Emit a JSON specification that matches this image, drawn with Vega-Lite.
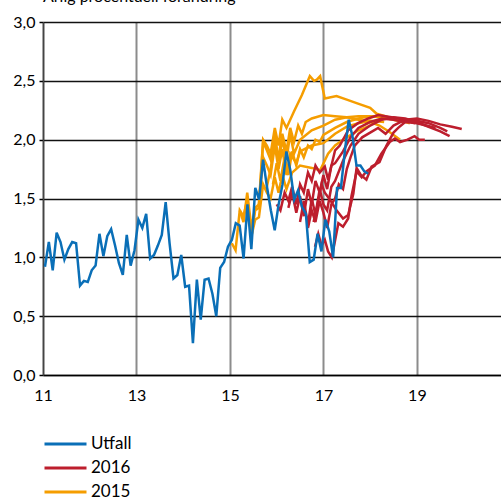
{
"$schema":"https://vega.github.io/schema/vega-lite/v6.json",
"width":458,"height":353,
"autosize":{"type":"none"},
"padding":{"left":43,"top":22,"right":0,"bottom":124},
"config":{"locale":{"number":{"decimal":",","thousands":" ","grouping":[3],"currency":[""," kr"]}},"view":{"stroke":null},"font":"Lato"},
"title":{"text":"Årlig procentuell förändring","anchor":"start","frame":"group","fontSize":16,"fontWeight":"normal","font":"Lato","color":"#000","baseline":"alphabetic","offset":8,"dy":12},
"datasets":{
"utfall":[
{"s":"Utfall","id":"U","t":11.042,"v":0.92},{"s":"Utfall","id":"U","t":11.125,"v":1.13},{"s":"Utfall","id":"U","t":11.208,"v":0.89},{"s":"Utfall","id":"U","t":11.292,"v":1.21},{"s":"Utfall","id":"U","t":11.375,"v":1.13},{"s":"Utfall","id":"U","t":11.458,"v":0.98},{"s":"Utfall","id":"U","t":11.542,"v":1.07},{"s":"Utfall","id":"U","t":11.625,"v":1.13},{"s":"Utfall","id":"U","t":11.708,"v":1.12},{"s":"Utfall","id":"U","t":11.792,"v":0.76},{"s":"Utfall","id":"U","t":11.875,"v":0.80},{"s":"Utfall","id":"U","t":11.958,"v":0.79},
{"s":"Utfall","id":"U","t":12.042,"v":0.89},{"s":"Utfall","id":"U","t":12.125,"v":0.93},{"s":"Utfall","id":"U","t":12.208,"v":1.20},{"s":"Utfall","id":"U","t":12.292,"v":1.01},{"s":"Utfall","id":"U","t":12.375,"v":1.18},{"s":"Utfall","id":"U","t":12.458,"v":1.24},{"s":"Utfall","id":"U","t":12.542,"v":1.10},{"s":"Utfall","id":"U","t":12.625,"v":0.95},{"s":"Utfall","id":"U","t":12.708,"v":0.85},{"s":"Utfall","id":"U","t":12.792,"v":1.19},{"s":"Utfall","id":"U","t":12.875,"v":0.93},{"s":"Utfall","id":"U","t":12.958,"v":1.06},
{"s":"Utfall","id":"U","t":13.042,"v":1.32},{"s":"Utfall","id":"U","t":13.125,"v":1.25},{"s":"Utfall","id":"U","t":13.208,"v":1.37},{"s":"Utfall","id":"U","t":13.292,"v":0.99},{"s":"Utfall","id":"U","t":13.375,"v":1.02},{"s":"Utfall","id":"U","t":13.458,"v":1.10},{"s":"Utfall","id":"U","t":13.542,"v":1.19},{"s":"Utfall","id":"U","t":13.625,"v":1.47},{"s":"Utfall","id":"U","t":13.708,"v":1.12},{"s":"Utfall","id":"U","t":13.792,"v":0.82},{"s":"Utfall","id":"U","t":13.875,"v":0.85},{"s":"Utfall","id":"U","t":13.958,"v":1.02},
{"s":"Utfall","id":"U","t":14.042,"v":0.75},{"s":"Utfall","id":"U","t":14.125,"v":0.76},{"s":"Utfall","id":"U","t":14.208,"v":0.27},{"s":"Utfall","id":"U","t":14.292,"v":0.81},{"s":"Utfall","id":"U","t":14.375,"v":0.47},{"s":"Utfall","id":"U","t":14.458,"v":0.81},{"s":"Utfall","id":"U","t":14.542,"v":0.82},{"s":"Utfall","id":"U","t":14.625,"v":0.69},{"s":"Utfall","id":"U","t":14.708,"v":0.50},{"s":"Utfall","id":"U","t":14.792,"v":0.91},{"s":"Utfall","id":"U","t":14.875,"v":0.96},{"s":"Utfall","id":"U","t":14.958,"v":1.09},
{"s":"Utfall","id":"U","t":15.042,"v":1.15},{"s":"Utfall","id":"U","t":15.125,"v":1.29},{"s":"Utfall","id":"U","t":15.208,"v":1.27},{"s":"Utfall","id":"U","t":15.292,"v":0.99},{"s":"Utfall","id":"U","t":15.375,"v":1.45},{"s":"Utfall","id":"U","t":15.458,"v":1.07},{"s":"Utfall","id":"U","t":15.542,"v":1.59},{"s":"Utfall","id":"U","t":15.625,"v":1.49},{"s":"Utfall","id":"U","t":15.708,"v":1.83},{"s":"Utfall","id":"U","t":15.792,"v":1.60},{"s":"Utfall","id":"U","t":15.875,"v":1.40},{"s":"Utfall","id":"U","t":15.958,"v":1.23},
{"s":"Utfall","id":"U","t":16.042,"v":1.45},{"s":"Utfall","id":"U","t":16.125,"v":1.62},{"s":"Utfall","id":"U","t":16.208,"v":1.90},{"s":"Utfall","id":"U","t":16.292,"v":1.74},{"s":"Utfall","id":"U","t":16.375,"v":1.49},{"s":"Utfall","id":"U","t":16.458,"v":1.57},{"s":"Utfall","id":"U","t":16.542,"v":1.43},{"s":"Utfall","id":"U","t":16.625,"v":1.37},{"s":"Utfall","id":"U","t":16.708,"v":0.96},{"s":"Utfall","id":"U","t":16.792,"v":0.98},{"s":"Utfall","id":"U","t":16.875,"v":1.20},{"s":"Utfall","id":"U","t":16.958,"v":1.05},
{"s":"Utfall","id":"U","t":17.042,"v":1.32},{"s":"Utfall","id":"U","t":17.125,"v":1.22},{"s":"Utfall","id":"U","t":17.208,"v":1.00},{"s":"Utfall","id":"U","t":17.292,"v":1.59},{"s":"Utfall","id":"U","t":17.375,"v":1.59},{"s":"Utfall","id":"U","t":17.458,"v":1.90},{"s":"Utfall","id":"U","t":17.542,"v":2.17},{"s":"Utfall","id":"U","t":17.625,"v":2.02},{"s":"Utfall","id":"U","t":17.708,"v":1.78},{"s":"Utfall","id":"U","t":17.792,"v":1.78},{"s":"Utfall","id":"U","t":17.875,"v":1.73},{"s":"Utfall","id":"U","t":17.958,"v":1.71}
],
"p2016":[
{"s":"2016","id":"R1","t":16.0,"v":1.45},{"s":"2016","id":"R1","t":16.08,"v":1.40},{"s":"2016","id":"R1","t":16.17,"v":1.55},{"s":"2016","id":"R1","t":16.25,"v":1.48},{"s":"2016","id":"R1","t":16.33,"v":1.60},{"s":"2016","id":"R1","t":16.42,"v":1.45},{"s":"2016","id":"R1","t":16.5,"v":1.62},{"s":"2016","id":"R1","t":16.58,"v":1.55},{"s":"2016","id":"R1","t":16.67,"v":1.72},{"s":"2016","id":"R1","t":16.75,"v":1.65},{"s":"2016","id":"R1","t":16.83,"v":1.78},{"s":"2016","id":"R1","t":16.92,"v":1.72},{"s":"2016","id":"R1","t":17.03,"v":1.77},{"s":"2016","id":"R1","t":17.1,"v":1.66},{"s":"2016","id":"R1","t":17.25,"v":1.91},{"s":"2016","id":"R1","t":17.35,"v":1.95},{"s":"2016","id":"R1","t":17.53,"v":2.08},{"s":"2016","id":"R1","t":17.74,"v":2.14},{"s":"2016","id":"R1","t":17.96,"v":2.18},{"s":"2016","id":"R1","t":18.17,"v":2.21},{"s":"2016","id":"R1","t":18.46,"v":2.19},{"s":"2016","id":"R1","t":18.74,"v":2.17},{"s":"2016","id":"R1","t":18.96,"v":2.14},
{"s":"2016","id":"R2","t":16.25,"v":1.42},{"s":"2016","id":"R2","t":16.33,"v":1.55},{"s":"2016","id":"R2","t":16.42,"v":1.38},{"s":"2016","id":"R2","t":16.5,"v":1.52},{"s":"2016","id":"R2","t":16.58,"v":1.35},{"s":"2016","id":"R2","t":16.67,"v":1.58},{"s":"2016","id":"R2","t":16.75,"v":1.45},{"s":"2016","id":"R2","t":16.83,"v":1.65},{"s":"2016","id":"R2","t":16.92,"v":1.55},{"s":"2016","id":"R2","t":17.0,"v":1.70},{"s":"2016","id":"R2","t":17.08,"v":1.58},{"s":"2016","id":"R2","t":17.17,"v":1.78},{"s":"2016","id":"R2","t":17.25,"v":1.80},{"s":"2016","id":"R2","t":17.42,"v":1.90},{"s":"2016","id":"R2","t":17.58,"v":2.02},{"s":"2016","id":"R2","t":17.75,"v":2.10},{"s":"2016","id":"R2","t":18.0,"v":2.15},{"s":"2016","id":"R2","t":18.25,"v":2.18},{"s":"2016","id":"R2","t":18.5,"v":2.17},{"s":"2016","id":"R2","t":18.75,"v":2.15},{"s":"2016","id":"R2","t":19.0,"v":2.14},{"s":"2016","id":"R2","t":19.2,"v":2.12},{"s":"2016","id":"R2","t":19.4,"v":2.10},
{"s":"2016","id":"R3","t":16.5,"v":1.30},{"s":"2016","id":"R3","t":16.58,"v":1.48},{"s":"2016","id":"R3","t":16.67,"v":1.28},{"s":"2016","id":"R3","t":16.75,"v":1.50},{"s":"2016","id":"R3","t":16.83,"v":1.36},{"s":"2016","id":"R3","t":16.92,"v":1.58},{"s":"2016","id":"R3","t":17.0,"v":1.45},{"s":"2016","id":"R3","t":17.08,"v":1.40},{"s":"2016","id":"R3","t":17.17,"v":1.60},{"s":"2016","id":"R3","t":17.25,"v":1.65},{"s":"2016","id":"R3","t":17.42,"v":1.82},{"s":"2016","id":"R3","t":17.58,"v":1.95},{"s":"2016","id":"R3","t":17.75,"v":2.05},{"s":"2016","id":"R3","t":18.0,"v":2.12},{"s":"2016","id":"R3","t":18.25,"v":2.17},{"s":"2016","id":"R3","t":18.5,"v":2.19},{"s":"2016","id":"R3","t":18.75,"v":2.18},{"s":"2016","id":"R3","t":19.0,"v":2.15},{"s":"2016","id":"R3","t":19.25,"v":2.11},{"s":"2016","id":"R3","t":19.5,"v":2.07},{"s":"2016","id":"R3","t":19.7,"v":2.03},
{"s":"2016","id":"R4","t":16.67,"v":1.25},{"s":"2016","id":"R4","t":16.75,"v":1.40},{"s":"2016","id":"R4","t":16.83,"v":1.30},{"s":"2016","id":"R4","t":16.92,"v":1.48},{"s":"2016","id":"R4","t":17.0,"v":1.38},{"s":"2016","id":"R4","t":17.08,"v":1.25},{"s":"2016","id":"R4","t":17.17,"v":1.45},{"s":"2016","id":"R4","t":17.25,"v":1.50},{"s":"2016","id":"R4","t":17.33,"v":1.62},{"s":"2016","id":"R4","t":17.42,"v":1.58},{"s":"2016","id":"R4","t":17.5,"v":1.75},{"s":"2016","id":"R4","t":17.58,"v":1.85},{"s":"2016","id":"R4","t":17.67,"v":1.95},{"s":"2016","id":"R4","t":17.83,"v":2.02},{"s":"2016","id":"R4","t":18.0,"v":2.06},{"s":"2016","id":"R4","t":18.17,"v":2.10},{"s":"2016","id":"R4","t":18.33,"v":2.05},{"s":"2016","id":"R4","t":18.5,"v":2.12},{"s":"2016","id":"R4","t":18.75,"v":2.17},{"s":"2016","id":"R4","t":19.0,"v":2.18},{"s":"2016","id":"R4","t":19.25,"v":2.16},{"s":"2016","id":"R4","t":19.5,"v":2.13},{"s":"2016","id":"R4","t":19.75,"v":2.11},{"s":"2016","id":"R4","t":19.96,"v":2.09},
{"s":"2016","id":"R5","t":16.79,"v":1.30},{"s":"2016","id":"R5","t":16.875,"v":1.45},{"s":"2016","id":"R5","t":16.96,"v":1.62},{"s":"2016","id":"R5","t":17.03,"v":1.55},{"s":"2016","id":"R5","t":17.14,"v":1.49},{"s":"2016","id":"R5","t":17.28,"v":1.40},{"s":"2016","id":"R5","t":17.42,"v":1.33},{"s":"2016","id":"R5","t":17.53,"v":1.36},{"s":"2016","id":"R5","t":17.64,"v":1.54},{"s":"2016","id":"R5","t":17.71,"v":1.76},{"s":"2016","id":"R5","t":17.8,"v":1.70},{"s":"2016","id":"R5","t":17.92,"v":1.66},{"s":"2016","id":"R5","t":18.03,"v":1.77},{"s":"2016","id":"R5","t":18.2,"v":1.81},{"s":"2016","id":"R5","t":18.35,"v":1.95},{"s":"2016","id":"R5","t":18.5,"v":2.06},{"s":"2016","id":"R5","t":18.6,"v":2.10},{"s":"2016","id":"R5","t":18.75,"v":2.15},{"s":"2016","id":"R5","t":19.0,"v":2.16},{"s":"2016","id":"R5","t":19.25,"v":2.14},{"s":"2016","id":"R5","t":19.5,"v":2.10},{"s":"2016","id":"R5","t":19.65,"v":2.07},
{"s":"2016","id":"R6","t":16.82,"v":1.09},{"s":"2016","id":"R6","t":16.89,"v":1.20},{"s":"2016","id":"R6","t":16.96,"v":1.10},{"s":"2016","id":"R6","t":17.03,"v":1.15},{"s":"2016","id":"R6","t":17.1,"v":1.05},{"s":"2016","id":"R6","t":17.18,"v":1.00},{"s":"2016","id":"R6","t":17.32,"v":1.29},{"s":"2016","id":"R6","t":17.42,"v":1.26},{"s":"2016","id":"R6","t":17.53,"v":1.33},{"s":"2016","id":"R6","t":17.6,"v":1.52},{"s":"2016","id":"R6","t":17.71,"v":1.73},{"s":"2016","id":"R6","t":17.82,"v":1.68},{"s":"2016","id":"R6","t":17.92,"v":1.73},{"s":"2016","id":"R6","t":18.1,"v":1.78},{"s":"2016","id":"R6","t":18.24,"v":1.88},{"s":"2016","id":"R6","t":18.42,"v":1.98},{"s":"2016","id":"R6","t":18.53,"v":2.01},{"s":"2016","id":"R6","t":18.64,"v":1.98},{"s":"2016","id":"R6","t":18.8,"v":2.00},{"s":"2016","id":"R6","t":18.95,"v":2.03},{"s":"2016","id":"R6","t":19.05,"v":2.00},{"s":"2016","id":"R6","t":19.17,"v":2.00}
],
"p2015":[
{"s":"2015","id":"O1","t":15.04,"v":1.12},{"s":"2015","id":"O1","t":15.12,"v":1.06},{"s":"2015","id":"O1","t":15.21,"v":1.40},{"s":"2015","id":"O1","t":15.29,"v":1.35},{"s":"2015","id":"O1","t":15.37,"v":1.49},{"s":"2015","id":"O1","t":15.46,"v":1.18},{"s":"2015","id":"O1","t":15.54,"v":1.32},{"s":"2015","id":"O1","t":15.62,"v":1.34},{"s":"2015","id":"O1","t":15.71,"v":1.62},{"s":"2015","id":"O1","t":15.79,"v":1.55},{"s":"2015","id":"O1","t":15.87,"v":1.50},{"s":"2015","id":"O1","t":15.96,"v":1.68},{"s":"2015","id":"O1","t":16.04,"v":1.55},{"s":"2015","id":"O1","t":16.12,"v":1.70},{"s":"2015","id":"O1","t":16.21,"v":1.58},{"s":"2015","id":"O1","t":16.33,"v":1.72},{"s":"2015","id":"O1","t":16.5,"v":1.78},{"s":"2015","id":"O1","t":16.75,"v":1.76},{"s":"2015","id":"O1","t":16.93,"v":1.74},{"s":"2015","id":"O1","t":17.1,"v":1.88},{"s":"2015","id":"O1","t":17.25,"v":1.95},{"s":"2015","id":"O1","t":17.5,"v":2.02},{"s":"2015","id":"O1","t":17.75,"v":2.08},{"s":"2015","id":"O1","t":18.0,"v":2.12},
{"s":"2015","id":"O2","t":15.21,"v":1.40},{"s":"2015","id":"O2","t":15.29,"v":1.30},{"s":"2015","id":"O2","t":15.37,"v":1.55},{"s":"2015","id":"O2","t":15.46,"v":1.25},{"s":"2015","id":"O2","t":15.54,"v":1.42},{"s":"2015","id":"O2","t":15.62,"v":1.45},{"s":"2015","id":"O2","t":15.71,"v":1.85},{"s":"2015","id":"O2","t":15.79,"v":1.78},{"s":"2015","id":"O2","t":15.87,"v":1.70},{"s":"2015","id":"O2","t":15.96,"v":1.95},{"s":"2015","id":"O2","t":16.04,"v":1.75},{"s":"2015","id":"O2","t":16.12,"v":1.92},{"s":"2015","id":"O2","t":16.21,"v":1.70},{"s":"2015","id":"O2","t":16.29,"v":1.88},{"s":"2015","id":"O2","t":16.42,"v":1.80},{"s":"2015","id":"O2","t":16.5,"v":1.90},{"s":"2015","id":"O2","t":16.75,"v":1.95},{"s":"2015","id":"O2","t":17.0,"v":1.97},{"s":"2015","id":"O2","t":17.25,"v":2.05},{"s":"2015","id":"O2","t":17.5,"v":2.11},{"s":"2015","id":"O2","t":17.75,"v":2.14},{"s":"2015","id":"O2","t":18.0,"v":2.16},{"s":"2015","id":"O2","t":18.3,"v":2.15},
{"s":"2015","id":"O3","t":15.46,"v":1.18},{"s":"2015","id":"O3","t":15.54,"v":1.40},{"s":"2015","id":"O3","t":15.62,"v":1.42},{"s":"2015","id":"O3","t":15.71,"v":1.98},{"s":"2015","id":"O3","t":15.79,"v":1.91},{"s":"2015","id":"O3","t":15.87,"v":1.83},{"s":"2015","id":"O3","t":15.96,"v":2.05},{"s":"2015","id":"O3","t":16.04,"v":1.82},{"s":"2015","id":"O3","t":16.12,"v":2.00},{"s":"2015","id":"O3","t":16.21,"v":1.83},{"s":"2015","id":"O3","t":16.29,"v":2.05},{"s":"2015","id":"O3","t":16.37,"v":1.88},{"s":"2015","id":"O3","t":16.5,"v":2.00},{"s":"2015","id":"O3","t":16.75,"v":2.08},{"s":"2015","id":"O3","t":17.0,"v":2.12},{"s":"2015","id":"O3","t":17.25,"v":2.17},{"s":"2015","id":"O3","t":17.5,"v":2.19},{"s":"2015","id":"O3","t":17.75,"v":2.17},{"s":"2015","id":"O3","t":18.0,"v":2.15},{"s":"2015","id":"O3","t":18.2,"v":2.12},{"s":"2015","id":"O3","t":18.4,"v":2.07},{"s":"2015","id":"O3","t":18.64,"v":2.00},
{"s":"2015","id":"O4","t":15.62,"v":1.45},{"s":"2015","id":"O4","t":15.71,"v":2.00},{"s":"2015","id":"O4","t":15.79,"v":1.95},{"s":"2015","id":"O4","t":15.87,"v":1.88},{"s":"2015","id":"O4","t":15.96,"v":2.10},{"s":"2015","id":"O4","t":16.04,"v":1.95},{"s":"2015","id":"O4","t":16.12,"v":2.17},{"s":"2015","id":"O4","t":16.21,"v":2.10},{"s":"2015","id":"O4","t":16.37,"v":2.24},{"s":"2015","id":"O4","t":16.54,"v":2.38},{"s":"2015","id":"O4","t":16.71,"v":2.54},{"s":"2015","id":"O4","t":16.8,"v":2.50},{"s":"2015","id":"O4","t":16.86,"v":2.51},{"s":"2015","id":"O4","t":16.93,"v":2.54},{"s":"2015","id":"O4","t":17.03,"v":2.35},{"s":"2015","id":"O4","t":17.28,"v":2.37},{"s":"2015","id":"O4","t":17.5,"v":2.34},{"s":"2015","id":"O4","t":17.71,"v":2.31},{"s":"2015","id":"O4","t":18.0,"v":2.27},{"s":"2015","id":"O4","t":18.14,"v":2.22},{"s":"2015","id":"O4","t":18.57,"v":2.17},{"s":"2015","id":"O4","t":18.85,"v":2.14},
{"s":"2015","id":"O5","t":15.79,"v":1.60},{"s":"2015","id":"O5","t":15.87,"v":1.75},{"s":"2015","id":"O5","t":15.96,"v":1.98},{"s":"2015","id":"O5","t":16.04,"v":1.85},{"s":"2015","id":"O5","t":16.12,"v":2.05},{"s":"2015","id":"O5","t":16.21,"v":1.90},{"s":"2015","id":"O5","t":16.29,"v":2.10},{"s":"2015","id":"O5","t":16.37,"v":1.98},{"s":"2015","id":"O5","t":16.46,"v":2.12},{"s":"2015","id":"O5","t":16.54,"v":2.05},{"s":"2015","id":"O5","t":16.62,"v":2.15},{"s":"2015","id":"O5","t":16.75,"v":2.18},{"s":"2015","id":"O5","t":17.0,"v":2.21},{"s":"2015","id":"O5","t":17.25,"v":2.20},{"s":"2015","id":"O5","t":17.5,"v":2.19},{"s":"2015","id":"O5","t":17.75,"v":2.20},{"s":"2015","id":"O5","t":18.0,"v":2.20},{"s":"2015","id":"O5","t":18.25,"v":2.19},{"s":"2015","id":"O5","t":18.5,"v":2.17},{"s":"2015","id":"O5","t":18.7,"v":2.15},
{"s":"2015","id":"O6","t":15.92,"v":1.62},{"s":"2015","id":"O6","t":16.0,"v":1.80},{"s":"2015","id":"O6","t":16.08,"v":1.65},{"s":"2015","id":"O6","t":16.17,"v":1.85},{"s":"2015","id":"O6","t":16.25,"v":1.70},{"s":"2015","id":"O6","t":16.33,"v":1.90},{"s":"2015","id":"O6","t":16.42,"v":1.78},{"s":"2015","id":"O6","t":16.5,"v":1.92},{"s":"2015","id":"O6","t":16.58,"v":1.85},{"s":"2015","id":"O6","t":16.67,"v":1.95},{"s":"2015","id":"O6","t":16.75,"v":1.92},{"s":"2015","id":"O6","t":16.83,"v":2.00},{"s":"2015","id":"O6","t":16.92,"v":1.98},{"s":"2015","id":"O6","t":17.0,"v":2.04},{"s":"2015","id":"O6","t":17.25,"v":2.10},{"s":"2015","id":"O6","t":17.5,"v":2.15},{"s":"2015","id":"O6","t":17.75,"v":2.18},{"s":"2015","id":"O6","t":18.0,"v":2.20},{"s":"2015","id":"O6","t":18.25,"v":2.20},{"s":"2015","id":"O6","t":18.5,"v":2.18},{"s":"2015","id":"O6","t":18.8,"v":2.16}
]
},
"encoding":{
"x":{"field":"t","type":"quantitative","scale":{"domain":[11,20.8],"nice":false,"zero":false},
"axis":{"title":null,"values":[11,13,15,17,19],"format":"d","grid":true,"gridColor":"#8c8c8c","gridWidth":2,"ticks":false,"labelPadding":12,"domainColor":"#000","domainWidth":1.5,"labelFontSize":16,"labelColor":"#000","labelFont":"Lato","labelFlush":false}},
"y":{"field":"v","type":"quantitative","scale":{"domain":[0,3],"nice":false,"zero":true},
"axis":{"title":null,"values":[0,0.5,1,1.5,2,2.5,3],"format":".1f","grid":true,"gridColor":"#111","gridWidth":1.5,"tickSize":4,"tickColor":"#000","tickWidth":1.5,"labelPadding":4,"domainColor":"#444","domainWidth":1.5,"labelFontSize":16,"labelColor":"#000","labelFont":"Lato"}},
"color":{"field":"s","type":"nominal","scale":{"domain":["Utfall","2016","2015"],"range":["#0A6FB7","#BD1E2D","#F59D00"]},
"legend":{"title":null,"orient":"none","legendX":0,"legendY":410,"direction":"vertical","symbolType":"M-1,0L3,0","symbolSize":441,"symbolStrokeWidth":3,"labelFontSize":17,"labelColor":"#000","labelFont":"Lato","labelOffset":24,"rowPadding":4}},
"detail":{"field":"id","type":"nominal"}
},
"layer":[
{"data":{"name":"p2015"},"mark":{"type":"line","strokeWidth":2.5}},
{"data":{"name":"p2016"},"mark":{"type":"line","strokeWidth":2.5}},
{"data":{"name":"utfall"},"mark":{"type":"line","strokeWidth":2.5}}
]
}
